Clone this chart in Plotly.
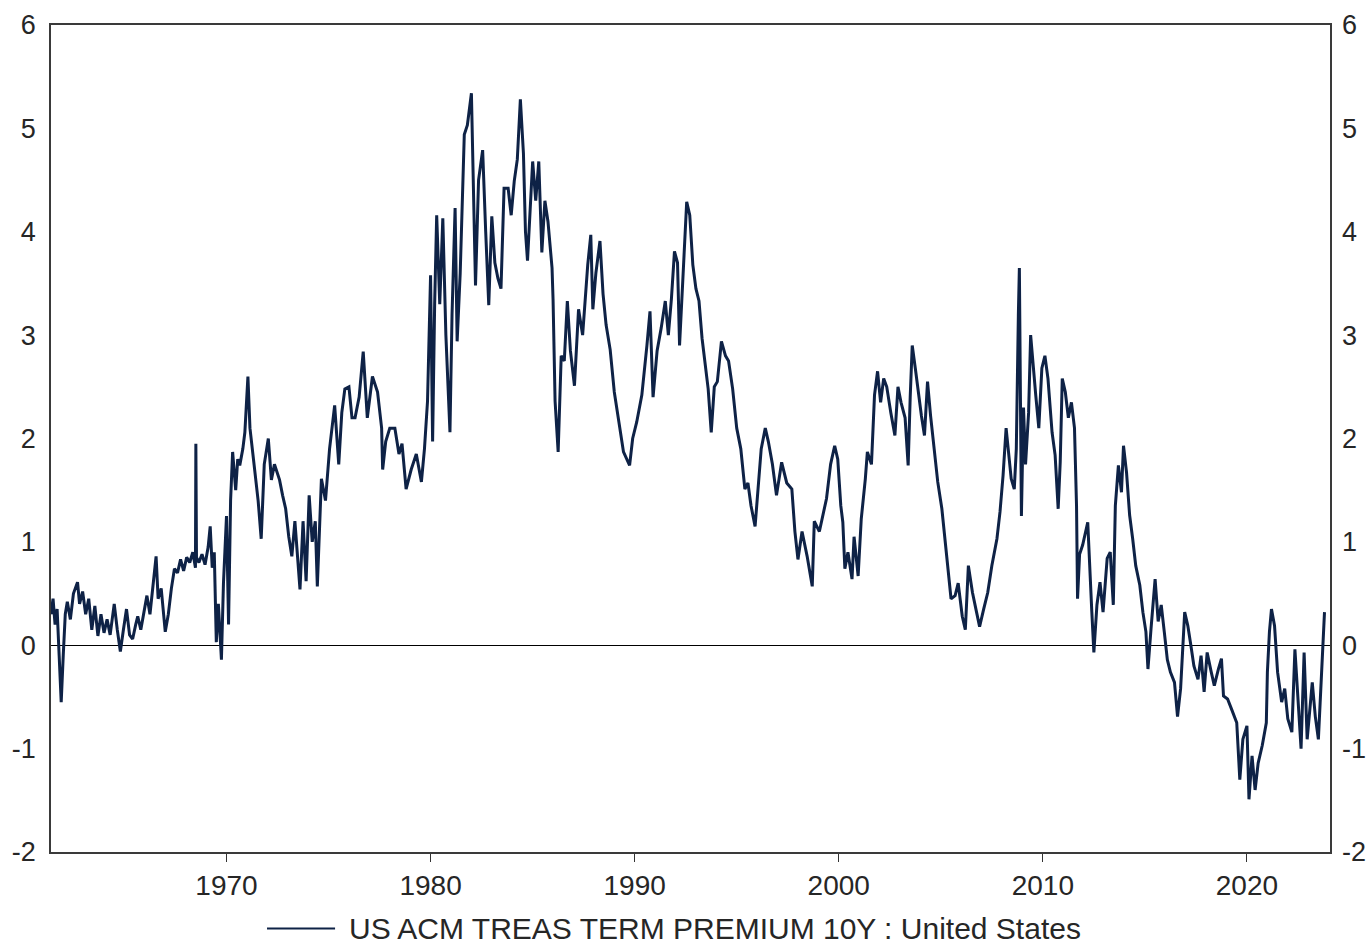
import datetime as dt
import plotly.graph_objects as go

# US ACM Treasury term premium, 10-year (percentage points), decimal-year time stamps
years = [
    1961.40, 1961.50, 1961.60, 1961.70, 1961.80, 1961.90, 1962.00, 1962.10, 1962.20, 1962.35,
    1962.50, 1962.70, 1962.80, 1962.95, 1963.10, 1963.25, 1963.40, 1963.55, 1963.70, 1963.85,
    1964.00, 1964.15, 1964.30, 1964.50, 1964.65, 1964.80, 1964.95, 1965.10, 1965.25, 1965.40,
    1965.55, 1965.65, 1965.80, 1966.00, 1966.10, 1966.25, 1966.40, 1966.55, 1966.65, 1966.80,
    1967.00, 1967.15, 1967.30, 1967.45, 1967.60, 1967.75, 1967.90, 1968.05, 1968.20, 1968.35,
    1968.48, 1968.50, 1968.53, 1968.65, 1968.80, 1968.95, 1969.10, 1969.20, 1969.30, 1969.40,
    1969.50, 1969.60, 1969.75, 1969.85, 1970.00, 1970.10, 1970.20, 1970.30, 1970.45, 1970.55,
    1970.65, 1970.80, 1970.90, 1971.05, 1971.15, 1971.30, 1971.40, 1971.55, 1971.70, 1971.85,
    1972.05, 1972.20, 1972.35, 1972.60, 1972.75, 1972.90, 1973.05, 1973.20, 1973.35, 1973.50,
    1973.60, 1973.75, 1973.90, 1974.05, 1974.20, 1974.35, 1974.45, 1974.65, 1974.85, 1975.05,
    1975.30, 1975.50, 1975.65, 1975.80, 1976.00, 1976.15, 1976.30, 1976.50, 1976.70, 1976.90,
    1977.15, 1977.40, 1977.60, 1977.65, 1977.80, 1978.00, 1978.25, 1978.45, 1978.60, 1978.80,
    1979.05, 1979.30, 1979.55, 1979.70, 1979.85, 1980.00, 1980.10, 1980.20, 1980.30, 1980.45,
    1980.60, 1980.75, 1980.95, 1981.05, 1981.20, 1981.30, 1981.45, 1981.65, 1981.80, 1982.00,
    1982.10, 1982.20, 1982.35, 1982.55, 1982.70, 1982.85, 1983.00, 1983.15, 1983.30, 1983.45,
    1983.60, 1983.80, 1983.95, 1984.10, 1984.25, 1984.40, 1984.55, 1984.65, 1984.75, 1985.00,
    1985.15, 1985.30, 1985.45, 1985.60, 1985.75, 1985.95, 1986.00, 1986.10, 1986.25, 1986.40,
    1986.55, 1986.70, 1986.85, 1987.05, 1987.25, 1987.45, 1987.70, 1987.85, 1987.95, 1988.10,
    1988.30, 1988.45, 1988.60, 1988.80, 1989.00, 1989.25, 1989.45, 1989.75, 1989.90, 1990.10,
    1990.35, 1990.60, 1990.75, 1990.90, 1991.10, 1991.30, 1991.50, 1991.65, 1991.80, 1991.95,
    1992.10, 1992.20, 1992.35, 1992.55, 1992.70, 1992.85, 1993.00, 1993.15, 1993.30, 1993.45,
    1993.60, 1993.75, 1993.90, 1994.05, 1994.25, 1994.45, 1994.60, 1994.80, 1995.00, 1995.20,
    1995.40, 1995.55, 1995.70, 1995.90, 1996.05, 1996.20, 1996.40, 1996.55, 1996.75, 1996.95,
    1997.20, 1997.45, 1997.70, 1997.85, 1998.00, 1998.20, 1998.45, 1998.70, 1998.80, 1999.05,
    1999.40, 1999.60, 1999.80, 1999.95, 2000.10, 2000.20, 2000.30, 2000.45, 2000.65, 2000.75,
    2000.95, 2001.10, 2001.30, 2001.40, 2001.60, 2001.75, 2001.90, 2002.05, 2002.20, 2002.35,
    2002.55, 2002.75, 2002.90, 2003.05, 2003.25, 2003.40, 2003.50, 2003.60, 2003.75, 2003.90,
    2004.05, 2004.20, 2004.35, 2004.50, 2004.70, 2004.85, 2005.05, 2005.20, 2005.35, 2005.50,
    2005.70, 2005.85, 2006.05, 2006.20, 2006.35, 2006.55, 2006.75, 2006.90, 2007.10, 2007.30,
    2007.50, 2007.75, 2007.90, 2008.05, 2008.20, 2008.35, 2008.45, 2008.60, 2008.70, 2008.80,
    2008.85, 2008.95, 2009.05, 2009.15, 2009.30, 2009.40, 2009.55, 2009.65, 2009.80, 2009.95,
    2010.10, 2010.25, 2010.45, 2010.60, 2010.75, 2010.85, 2010.95, 2011.10, 2011.25, 2011.40,
    2011.55, 2011.65, 2011.70, 2011.80, 2011.95, 2012.20, 2012.40, 2012.50, 2012.65, 2012.80,
    2012.95, 2013.15, 2013.30, 2013.45, 2013.55, 2013.70, 2013.85, 2013.95, 2014.10, 2014.25,
    2014.40, 2014.55, 2014.75, 2014.90, 2015.05, 2015.15, 2015.30, 2015.50, 2015.65, 2015.80,
    2015.95, 2016.10, 2016.25, 2016.45, 2016.60, 2016.75, 2016.95, 2017.10, 2017.25, 2017.40,
    2017.60, 2017.75, 2017.90, 2018.05, 2018.25, 2018.40, 2018.60, 2018.75, 2018.85, 2019.05,
    2019.25, 2019.50, 2019.65, 2019.80, 2020.00, 2020.10, 2020.25, 2020.40, 2020.55, 2020.75,
    2020.95, 2021.00, 2021.10, 2021.20, 2021.35, 2021.50, 2021.70, 2021.85, 2022.00, 2022.20,
    2022.35, 2022.50, 2022.65, 2022.80, 2022.95, 2023.20, 2023.35, 2023.50, 2023.60, 2023.70,
    2023.80,
]

term_premium = [
    0.30, 0.45, 0.20, 0.35, -0.10, -0.55, -0.10, 0.30, 0.42, 0.25,
    0.50, 0.61, 0.40, 0.52, 0.30, 0.45, 0.15, 0.38, 0.09, 0.30,
    0.12, 0.25, 0.10, 0.40, 0.15, -0.06, 0.15, 0.35, 0.10, 0.06,
    0.20, 0.28, 0.15, 0.35, 0.48, 0.30, 0.55, 0.86, 0.45, 0.55,
    0.13, 0.30, 0.55, 0.74, 0.70, 0.83, 0.72, 0.85, 0.80, 0.90,
    0.75, 1.95, 0.85, 0.80, 0.88, 0.78, 0.95, 1.15, 0.75, 0.90,
    0.03, 0.40, -0.14, 0.60, 1.25, 0.20, 1.40, 1.87, 1.50, 1.80,
    1.74, 1.90, 2.06, 2.60, 2.10, 1.85, 1.68, 1.40, 1.03, 1.75,
    2.00, 1.60, 1.75, 1.60, 1.45, 1.32, 1.05, 0.86, 1.20, 0.80,
    0.54, 1.20, 0.62, 1.45, 1.00, 1.20, 0.57, 1.61, 1.40, 1.90,
    2.32, 1.75, 2.25, 2.48, 2.50, 2.20, 2.20, 2.40, 2.84, 2.20,
    2.60, 2.45, 2.10, 1.70, 1.97, 2.10, 2.10, 1.85, 1.95, 1.51,
    1.70, 1.85, 1.58, 1.90, 2.36, 3.58, 1.97, 3.30, 4.16, 3.30,
    4.13, 3.00, 2.06, 3.20, 4.23, 2.94, 3.60, 4.94, 5.03, 5.34,
    4.30, 3.48, 4.50, 4.79, 4.00, 3.29, 4.15, 3.70, 3.55, 3.45,
    4.42, 4.42, 4.16, 4.49, 4.70, 5.28, 4.76, 4.00, 3.72, 4.68,
    4.30, 4.68, 3.80, 4.30, 4.10, 3.65, 3.35, 2.36, 1.87, 2.80,
    2.75, 3.33, 2.85, 2.51, 3.25, 3.00, 3.68, 3.97, 3.25, 3.60,
    3.91, 3.40, 3.10, 2.86, 2.45, 2.10, 1.87, 1.74, 2.00, 2.16,
    2.42, 2.90, 3.23, 2.40, 2.85, 3.07, 3.33, 3.00, 3.35, 3.81,
    3.70, 2.90, 3.50, 4.29, 4.16, 3.68, 3.45, 3.33, 2.97, 2.70,
    2.48, 2.06, 2.50, 2.55, 2.94, 2.80, 2.75, 2.48, 2.10, 1.90,
    1.51, 1.57, 1.35, 1.15, 1.50, 1.90, 2.10, 1.97, 1.75, 1.45,
    1.77, 1.57, 1.51, 1.10, 0.83, 1.10, 0.86, 0.57, 1.20, 1.10,
    1.42, 1.75, 1.93, 1.80, 1.35, 1.19, 0.74, 0.90, 0.64, 1.05,
    0.67, 1.22, 1.61, 1.87, 1.75, 2.42, 2.65, 2.35, 2.58, 2.50,
    2.25, 2.03, 2.50, 2.35, 2.20, 1.74, 2.40, 2.90, 2.68, 2.42,
    2.22, 2.03, 2.55, 2.22, 1.84, 1.58, 1.32, 1.03, 0.74, 0.45,
    0.48, 0.60, 0.28, 0.15, 0.77, 0.51, 0.32, 0.18, 0.35, 0.51,
    0.77, 1.03, 1.29, 1.64, 2.10, 1.80, 1.61, 1.51, 1.90, 3.19,
    3.65, 1.25, 2.30, 1.75, 2.25, 3.00, 2.60, 2.42, 2.10, 2.68,
    2.80, 2.58, 2.06, 1.84, 1.32, 1.77, 2.58, 2.45, 2.20, 2.35,
    2.10, 1.35, 0.45, 0.88, 0.97, 1.19, 0.32, -0.07, 0.39, 0.61,
    0.32, 0.84, 0.90, 0.39, 1.35, 1.74, 1.48, 1.93, 1.67, 1.26,
    1.03, 0.77, 0.58, 0.32, 0.13, -0.23, 0.16, 0.64, 0.23, 0.39,
    0.13, -0.14, -0.26, -0.36, -0.69, -0.42, 0.32, 0.19, 0.00, -0.20,
    -0.33, -0.10, -0.45, -0.07, -0.26, -0.39, -0.23, -0.13, -0.49, -0.52,
    -0.62, -0.75, -1.30, -0.91, -0.78, -1.49, -1.07, -1.40, -1.14, -0.97,
    -0.75, -0.26, 0.13, 0.35, 0.19, -0.26, -0.55, -0.42, -0.71, -0.84,
    -0.04, -0.58, -1.00, -0.07, -0.91, -0.36, -0.69, -0.91, -0.52, -0.20,
    0.32,
]

x_tick_years = [1970, 1980, 1990, 2000, 2010, 2020]
y_ticks = [-2, -1, 0, 1, 2, 3, 4, 5, 6]
y_tick_text = ["-2", "-1", "0", "1", "2", "3", "4", "5", "6"]
series_name = "US ACM TREAS TERM PREMIUM 10Y : United States"


def to_date(y):
    base = dt.datetime(int(y), 1, 1)
    return base + dt.timedelta(days=(y - int(y)) * 365.25)


dates = [to_date(y) for y in years]

LINE = "#0e2246"
TEXT = "#262626"
FONT = "Liberation Sans, Arial, sans-serif"

fig = go.Figure()
fig.add_trace(go.Scatter(
    x=dates, y=term_premium, mode="lines", name=series_name,
    line=dict(color=LINE, width=3), showlegend=False,
))
# mirror of the series on the right-hand axis so its labels are drawn
fig.add_trace(go.Scatter(
    x=dates, y=term_premium, mode="lines", yaxis="y2",
    line=dict(color=LINE, width=0), opacity=0, showlegend=False, hoverinfo="skip",
))

x_range = [to_date(1961.40), to_date(2024.07)]

fig.update_layout(
    width=1371, height=944,
    margin=dict(l=51, r=41, t=25, b=92),
    paper_bgcolor="white", plot_bgcolor="white",
    font=dict(family=FONT, size=28, color=TEXT),
    xaxis=dict(
        type="date", range=x_range, automargin=False,
        tickvals=[dt.datetime(y, 1, 1) for y in x_tick_years],
        ticktext=[str(y) for y in x_tick_years],
        ticks="outside", ticklen=8, tickcolor="#333333", tickwidth=1,
        showgrid=False, zeroline=False,
        showline=True, linecolor="#3a3a3a", linewidth=1.5, mirror=True,
        tickfont=dict(size=28, color=TEXT),
    ),
    yaxis=dict(
        range=[-2, 6], tickvals=y_ticks, ticktext=y_tick_text, ticks="", automargin=False,
        showgrid=False, zeroline=True, zerolinecolor="black", zerolinewidth=1.2,
        showline=True, linecolor="#3a3a3a", linewidth=1.5, mirror=True,
        tickfont=dict(size=27, color=TEXT), ticklabelstandoff=8,
    ),
    yaxis2=dict(
        range=[-2, 6], tickvals=y_ticks, ticktext=y_tick_text, ticks="", automargin=False,
        overlaying="y", side="right",
        showgrid=False, zeroline=False, showline=False,
        tickfont=dict(size=27, color=TEXT), ticklabelstandoff=11,
    ),
)

# legend key drawn below the axis
fig.add_shape(
    type="line", xref="paper", yref="paper",
    x0=0.1689, x1=0.2221, y0=-0.0925, y1=-0.0925,
    line=dict(color=LINE, width=2),
)
fig.add_annotation(
    xref="paper", yref="paper", x=0.2314, y=-0.0925,
    xanchor="left", yanchor="middle", showarrow=False,
    text=series_name, font=dict(size=30, color=TEXT, family=FONT),
)

fig.write_html("out.html")
